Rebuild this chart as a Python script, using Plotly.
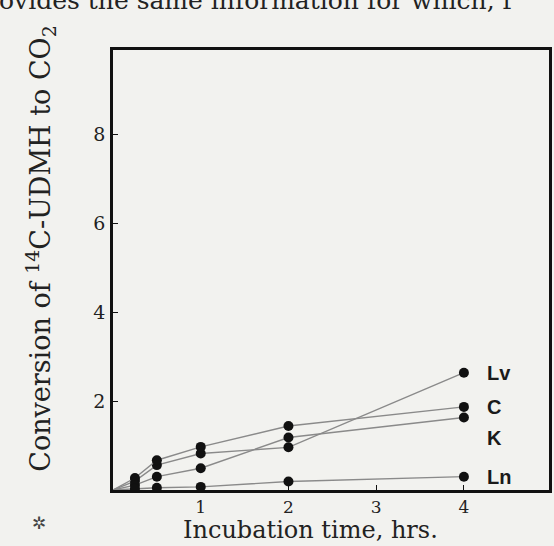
import plotly.graph_objects as go

# Data
times = [0, 0.25, 0.5, 1, 2, 4]
series_names = ["Lv", "C", "K", "Ln"]
lv = [0, 0.20, 0.56, 0.82, 0.96, 2.64]
c = [0, 0.27, 0.67, 0.97, 1.44, 1.87]
k = [0, 0.11, 0.30, 0.49, 1.18, 1.63]
ln = [0, 0.03, 0.05, 0.07, 0.19, 0.30]
series_values = [lv, c, k, ln]
x_ticks = [1, 2, 3, 4]
y_ticks = [2, 4, 6, 8]

bg = "#f2f2ef"
ink = "#1a1a1a"
fig = go.Figure()
for name, vals in zip(series_names, series_values):
    fig.add_trace(go.Scatter(
        x=times, y=vals, mode="lines",
        line=dict(color="#8a8a8a", width=1.4), showlegend=False, name=name))
    fig.add_trace(go.Scatter(
        x=times[1:], y=vals[1:], mode="markers",
        marker=dict(color="#111", size=10), showlegend=False, hoverinfo="skip"))

label_dy = {"Lv": 0, "C": 0, "K": -20, "Ln": 0}
for name, vals in zip(series_names, series_values):
    fig.add_annotation(x=times[-1], y=vals[-1], text="<b>%s</b>" % name,
                       showarrow=False, xanchor="left", yanchor="middle",
                       xshift=21, yshift=label_dy[name],
                       font=dict(family="Liberation Sans", size=20, color=ink))

fig.add_annotation(xref="paper", yref="paper", x=-0.215, y=0.55,
                   text="Conversion of <sup>14</sup>C-UDMH to CO<sub>2</sub>",
                   textangle=-90, showarrow=False,
                   font=dict(family="DejaVu Serif", size=27, color="#222"))
fig.add_annotation(xref="paper", yref="paper", x=0.453, y=-0.091,
                   text="Incubation time, hrs.", showarrow=False,
                   xanchor="center", yanchor="middle",
                   font=dict(family="DejaVu Serif", size=24, color="#222"))
fig.add_annotation(xref="paper", yref="paper", x=-0.17, y=-0.075,
                   text="✲", showarrow=False, xanchor="center", yanchor="middle",
                   font=dict(family="DejaVu Sans", size=17, color="#444"))
fig.add_annotation(xref="paper", yref="paper", x=-0.265, y=1.074,
                   text="ovides the same information for which, f",
                   showarrow=False, xanchor="left", yanchor="bottom",
                   font=dict(family="DejaVu Serif", size=25, color="#222"))

fig.update_xaxes(range=[0, 4.97], tickvals=x_ticks, ticks="inside", ticklen=5,
                 tickcolor="#111", showline=True, linecolor="#111", linewidth=2.5,
                 mirror=True, showgrid=False, zeroline=False,
                 tickfont=dict(family="DejaVu Serif", size=17, color="#222"))
fig.update_yaxes(range=[0, 9.9], tickvals=y_ticks, ticks="inside", ticklen=5,
                 tickcolor="#111", showline=True, linecolor="#111", linewidth=2.5,
                 mirror=True, showgrid=False, zeroline=False, ticklabelstandoff=1,
                 tickfont=dict(family="DejaVu Serif", size=19, color="#222"))
fig.update_layout(width=554, height=546, paper_bgcolor=bg, plot_bgcolor=bg,
                  margin=dict(l=113, r=2, t=50, b=56))
fig.write_html("out.html")
